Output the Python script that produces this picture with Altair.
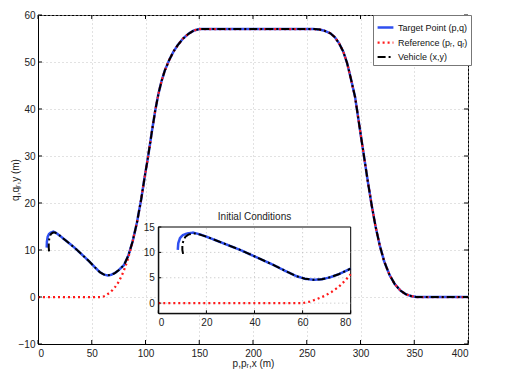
import altair as alt
import pandas as pd

# ---- data ----
target_x = [8.1, 8.3, 9.0, 10.2, 11.8, 14.5, 17, 20, 27, 34, 41, 48, 53, 57.5, 61, 64.5, 68, 71.5, 75, 80,
            84, 88, 92, 96, 99, 102.5, 106, 109, 112, 115, 118, 122, 126, 130, 135, 140, 145, 150,
            257, 262, 267, 272, 276, 280, 284, 287.5, 291, 295, 299.5, 304, 307, 310.5, 314, 318, 322,
            327, 332, 337, 342, 347, 352, 400]
target_y = [10.5, 11.8, 12.8, 13.4, 13.7, 13.9, 13.6, 13.1, 11.8, 10.5, 9.0, 7.5, 6.3, 5.3, 4.8, 4.6, 4.7, 5.1, 5.7, 6.8,
            8.8, 11.8, 15.8, 20.8, 25.2, 30, 35.3, 39.6, 43.2, 46.0, 48.2, 50.4, 52.2, 53.6, 55.0, 56.0, 56.7, 57,
            57, 56.9, 56.6, 56.1, 55.3, 54, 52.2, 49.8, 46.5, 42.5, 35.6, 28.8, 24.3, 19.4, 15, 10.9, 7.6,
            4.7, 2.7, 1.4, 0.6, 0.2, 0, 0]

ref_start_x = [0, 60, 63, 66, 69, 72, 75, 78, 80, 83, 86]
ref_start_y = [0, 0, 0.3, 0.8, 1.4, 2.2, 3.2, 4.6, 5.7, 7.6, 10.0]

veh_start_x = [10.3, 10.0, 10.0, 10.5, 11.3, 12.5, 14, 16, 18]
veh_start_y = [9.7, 10.5, 11.5, 12.4, 13.1, 13.5, 13.7, 13.7, 13.4]

series_names = ["Target Point (p,q)", "Reference (pᵣ, qᵣ)", "Vehicle (x,y)"]
series_colors = ["#2f4ff0", "#ff1a1a", "#000000"]
series_dash = [[1, 0], [2, 3], [8, 3, 2, 3]]
series_width = [2.5, 2.0, 2.5]

main_x_ticks = [0, 50, 100, 150, 200, 250, 300, 350, 400]
main_y_ticks = [-10, 0, 10, 20, 30, 40, 50, 60]
inset_x_ticks = [0, 20, 40, 60, 80]
inset_y_ticks = [0, 5, 10, 15]
inset_grid_x = [20, 40, 60]
inset_grid_y = [0, 5, 10]

# ---- build table ----
rows = []
for i, (x, y) in enumerate(zip(target_x, target_y)):
    rows.append({"series": series_names[0], "x": x, "y": y, "i": i})
rx = ref_start_x + [x for x in target_x if x >= 88]
ry = ref_start_y + [y for x, y in zip(target_x, target_y) if x >= 88]
for i, (x, y) in enumerate(zip(rx, ry)):
    rows.append({"series": series_names[1], "x": x, "y": y, "i": i})
vx = veh_start_x + [x for x in target_x if x >= 20]
vy = veh_start_y + [y for x, y in zip(target_x, target_y) if x >= 20]
for i, (x, y) in enumerate(zip(vx, vy)):
    rows.append({"series": series_names[2], "x": x, "y": y, "i": i})
df = pd.DataFrame(rows)

W, H = 430, 329
FONT = "Liberation Sans"
XMIN, XMAX, YMIN, YMAX = 0, 400, -10, 60
IXMIN, IXMAX, IYMIN, IYMAX = 0, 80, -2, 15

legend = alt.Legend(title=None, orient="none", legendX=335, legendY=0,
                    symbolType="stroke", symbolSize=250, symbolStrokeWidth=2,
                    labelFont=FONT, labelFontSize=9, labelColor="#111",
                    fillColor="white", strokeColor="#777", padding=3,
                    rowPadding=-2, labelOffset=3, labelLimit=200)
color = alt.Color("series:N", scale=alt.Scale(domain=series_names, range=series_colors), legend=legend)
dash = alt.StrokeDash("series:N", scale=alt.Scale(domain=series_names, range=series_dash), legend=legend)
swidth = alt.StrokeWidth("series:N", scale=alt.Scale(domain=series_names, range=series_width), legend=None)

main_x_axis = alt.Axis(title="p,pᵣ,x (m)", values=main_x_ticks, grid=True, ticks=False, labelPadding=4,
                       titlePadding=0)
main_y_axis = alt.Axis(title="q,qᵣ,y (m)", values=main_y_ticks, grid=True, ticks=False, labelPadding=3,
                       titleX=-20, titleBaseline="alphabetic")
mxs = alt.Scale(domain=[XMIN, XMAX], nice=False, zero=False)
mys = alt.Scale(domain=[YMIN, YMAX], nice=False, zero=False)

main = alt.Chart(df).mark_line(strokeCap="butt").encode(
    x=alt.X("x:Q", scale=mxs, axis=main_x_axis), y=alt.Y("y:Q", scale=mys, axis=main_y_axis),
    color=color, strokeDash=dash, strokeWidth=swidth, order=alt.Order("i:Q"))

# inward tick marks (MATLAB style), on all four sides
tx = pd.DataFrame({"t": main_x_ticks})
ty = pd.DataFrame({"t": main_y_ticks})
tk_len_y = 4 * (YMAX - YMIN) / H
tk_len_x = 4 * (XMAX - XMIN) / W
tick_bot = alt.Chart(tx).mark_rule(color="black").encode(
    x=alt.X("t:Q", scale=mxs, axis=main_x_axis),
    y=alt.Y(datum=YMIN, scale=mys, axis=main_y_axis), y2=alt.Y2(datum=YMIN + tk_len_y))
tick_top = alt.Chart(tx).mark_rule(color="black").encode(
    x=alt.X("t:Q", scale=mxs, axis=main_x_axis),
    y=alt.Y(datum=YMAX - tk_len_y, scale=mys, axis=main_y_axis), y2=alt.Y2(datum=YMAX))
tick_left = alt.Chart(ty).mark_rule(color="black").encode(
    y=alt.Y("t:Q", scale=mys, axis=main_y_axis),
    x=alt.X(datum=XMIN, scale=mxs, axis=main_x_axis), x2=alt.X2(datum=XMIN + tk_len_x))
tick_right = alt.Chart(ty).mark_rule(color="black").encode(
    y=alt.Y("t:Q", scale=mys, axis=main_y_axis),
    x=alt.X(datum=XMAX - tk_len_x, scale=mxs, axis=main_x_axis), x2=alt.X2(datum=XMAX))

main_layer = alt.layer(main, tick_bot, tick_top, tick_left, tick_right)

# ---- inset ----
IX0, IX1, IY0, IY1 = 120.3, 312.7, 298.3, 212
ix_scale = alt.Scale(domain=[IXMIN, IXMAX], range=[IX0, IX1], nice=False, zero=False)
iy_scale = alt.Scale(domain=[IYMIN, IYMAX], range=[IY0, IY1], nice=False, zero=False)
ix_axis = alt.Axis(title=None, orient="bottom", offset=-(H - IY0), values=inset_x_ticks, grid=False,
                   ticks=False, labelPadding=4, zindex=2)
iy_axis = alt.Axis(title=None, orient="left", offset=-IX0, values=inset_y_ticks, grid=False,
                   ticks=False, labelPadding=4, zindex=2)

bg = alt.Chart(pd.DataFrame({"a": [0]})).mark_rect(fill="white", stroke="black", strokeWidth=1).encode(
    x=alt.X(datum=IXMIN, scale=ix_scale, axis=ix_axis), x2=alt.X2(datum=IXMAX),
    y=alt.Y(datum=IYMIN, scale=iy_scale, axis=iy_axis), y2=alt.Y2(datum=IYMAX))

gx = alt.Chart(pd.DataFrame({"g": inset_grid_x})).mark_rule(color="#bdbdbd", strokeDash=[1, 3]).encode(
    x=alt.X("g:Q", scale=ix_scale, axis=ix_axis),
    y=alt.Y(datum=IYMIN, scale=iy_scale, axis=iy_axis), y2=alt.Y2(datum=IYMAX))
gy = alt.Chart(pd.DataFrame({"g": inset_grid_y})).mark_rule(color="#bdbdbd", strokeDash=[1, 3]).encode(
    y=alt.Y("g:Q", scale=iy_scale, axis=iy_axis),
    x=alt.X(datum=IXMIN, scale=ix_scale, axis=ix_axis), x2=alt.X2(datum=IXMAX))

itk_y = 3 * (IYMAX - IYMIN) / (IY0 - IY1)
itk_x = 3 * (IXMAX - IXMIN) / (IX1 - IX0)
itick_b = alt.Chart(pd.DataFrame({"t": inset_x_ticks})).mark_rule(color="black").encode(
    x=alt.X("t:Q", scale=ix_scale, axis=ix_axis),
    y=alt.Y(datum=IYMIN, scale=iy_scale, axis=iy_axis), y2=alt.Y2(datum=IYMIN + itk_y))
itick_l = alt.Chart(pd.DataFrame({"t": inset_y_ticks})).mark_rule(color="black").encode(
    y=alt.Y("t:Q", scale=iy_scale, axis=iy_axis),
    x=alt.X(datum=IXMIN, scale=ix_scale, axis=ix_axis), x2=alt.X2(datum=IXMIN + itk_x))

inset_lines = alt.Chart(df).transform_filter("datum.x <= 80").mark_line(strokeCap="butt").encode(
    x=alt.X("x:Q", scale=ix_scale, axis=ix_axis),
    y=alt.Y("y:Q", scale=iy_scale, axis=iy_axis),
    color=color, strokeDash=dash, strokeWidth=swidth, order=alt.Order("i:Q"))

ititle = alt.Chart(pd.DataFrame({"t": ["Initial Conditions"]})).mark_text(
    font=FONT, fontSize=10, color="#222", baseline="bottom", dy=-5).encode(
    x=alt.X(datum=40, scale=ix_scale, axis=ix_axis),
    y=alt.Y(datum=IYMAX, scale=iy_scale, axis=iy_axis),
    text="t:N")

inset = alt.layer(bg, gx, gy, itick_b, itick_l, inset_lines, ititle)

chart = alt.layer(main_layer, inset).resolve_scale(x="independent", y="independent").properties(
    width=W, height=H,
    autosize=alt.AutoSizeParams(type="none"),
    padding={"left": 30, "top": 7, "right": 20, "bottom": 30},
).configure_view(stroke="black", strokeWidth=1).configure_axis(
    labelFont=FONT, labelFontSize=10, labelColor="#222",
    titleFont=FONT, titleFontSize=10, titleFontWeight="normal", titleColor="#222",
    domainColor="black", domainWidth=1,
    gridColor="#c4c4c4", gridDash=[1, 3], gridWidth=1,
)

chart.save("out.html", embed_options={"renderer": "svg", "actions": False})
